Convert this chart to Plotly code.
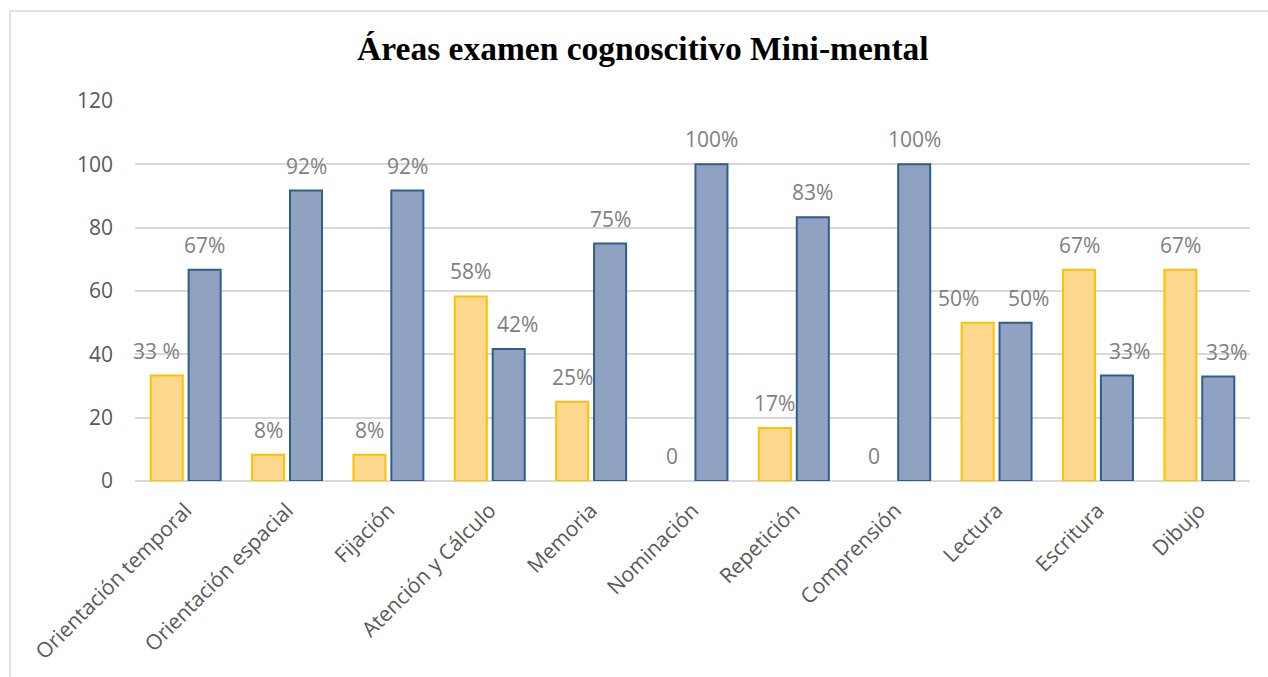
import plotly.graph_objects as go

categories = ["Orientación temporal", "Orientación espacial", "Fijación", "Atención y Cálculo",
              "Memoria", "Nominación", "Repetición", "Comprensión", "Lectura", "Escritura", "Dibujo"]
serie_a = [33.3, 8.3, 8.3, 58.3, 25, 0, 16.7, 0, 50, 66.7, 66.7]
serie_b = [66.7, 91.7, 91.7, 41.7, 75, 100, 83.3, 100, 50, 33.3, 33]
labels_a = ["33 %", "8%", "8%", "58%", "25%", "0", "17%", "0", "50%", "67%", "67%"]
labels_b = ["67%", "92%", "92%", "42%", "75%", "100%", "83%", "100%", "50%", "33%", "33%"]
y_ticks = [0, 20, 40, 60, 80, 100, 120]

# style: small horizontal nudges of the data labels (px), as in the original
dx_a = [-10, 0, 0, 0, 0, -2, 0, -2, -19, 0, 0]
dx_b = [0, 0, 0, 9, 0, 0, 0, 0, 13, 13, 8]

OFF = 0.187
W = 0.316
idx = list(range(len(categories)))
xa = [i - OFF for i in idx]
xb = [i + OFF for i in idx]
lw_a = [2 if v > 0 else 0 for v in serie_a]
lw_b = [2 if v > 0 else 0 for v in serie_b]

fig = go.Figure()
fig.add_trace(go.Bar(x=xa, y=serie_a, width=W,
                     marker=dict(color="#FED88E", line=dict(color="#FFC000", width=lw_a)),
                     showlegend=False, hoverinfo="skip"))
fig.add_trace(go.Bar(x=xb, y=serie_b, width=W,
                     marker=dict(color="#8FA2C1", line=dict(color="#2E5E8E", width=lw_b)),
                     showlegend=False, hoverinfo="skip"))

ann = []
for xs, ys, ls, dxs in [(xa, serie_a, labels_a, dx_a), (xb, serie_b, labels_b, dx_b)]:
    for x, y, t, d in zip(xs, ys, ls, dxs):
        ann.append(dict(x=x, y=y, text=t, showarrow=False, xref="x", yref="y",
                        yanchor="middle", xanchor="center", yshift=25, xshift=d,
                        font=dict(family="Open Sans", size=21, color="#7F7F7F")))

fig.update_layout(
    width=1268, height=677,
    margin=dict(l=135, r=18, t=101, b=196),
    paper_bgcolor="white", plot_bgcolor="white",
    barmode="overlay",
    title=dict(text="<b>Áreas examen cognoscitivo Mini-mental</b>",
               font=dict(family="Liberation Serif", size=33.5, color="black"),
               x=0.507, xanchor="center", y=0.929, yanchor="middle"),
    annotations=ann,
    shapes=[dict(type="rect", xref="paper", yref="paper",
                 x0=-0.1121, x1=1.3, y0=-0.6, y1=1.2368,
                 line=dict(color="#D9D9D9", width=1.5), fillcolor="rgba(0,0,0,0)", layer="below")],
)
fig.update_xaxes(range=[-0.5, 10.5], tickmode="array", tickvals=idx, ticktext=categories,
                 tickangle=-45, showgrid=False, showline=False, zeroline=False, ticks="",
                 ticklabelstandoff=12,
                 tickfont=dict(family="Open Sans", size=21, color="#595959"))
fig.update_yaxes(range=[0, 120], tickmode="array", tickvals=y_ticks, showgrid=True,
                 gridcolor="#D9D9D9", gridwidth=1.5, zeroline=True, zerolinecolor="#D9D9D9",
                 zerolinewidth=1.5, showline=False, ticks="", ticklabelstandoff=21,
                 tickfont=dict(family="Open Sans", size=21, color="#595959"))

fig.write_html("out.html")
